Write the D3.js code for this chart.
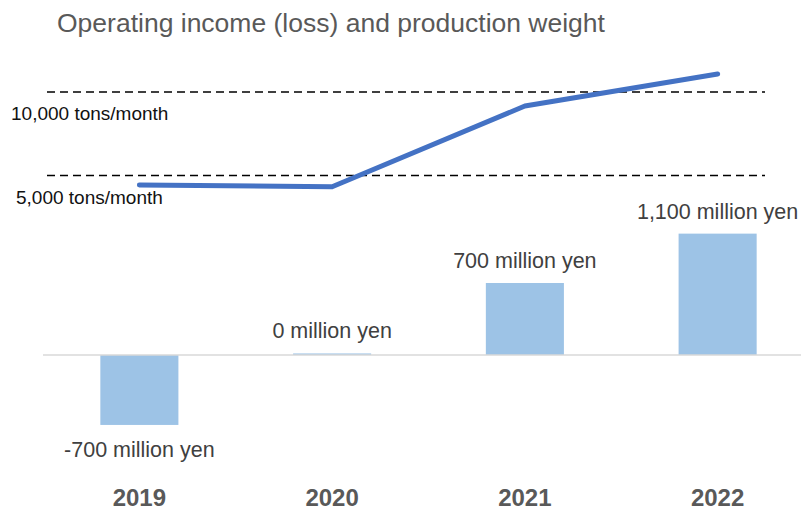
<!DOCTYPE html>
<html>
<head>
<meta charset="utf-8">
<script src="https://cdn.jsdelivr.net/npm/d3@7/dist/d3.min.js"></script>
<style>
  html, body { margin: 0; padding: 0; background: #fff; }
  svg { display: block; font-family: "Liberation Sans", Arial, sans-serif; }
</style>
</head>
<body>
<svg id="chart" width="801" height="512"></svg>
<script>
// ---- data ----
const years = ["2019", "2020", "2021", "2022"];
const operatingIncome = [-680, 15, 700, 1180];          // million yen (bars)
const incomeLabels = ["-700 million yen", "0 million yen", "700 million yen", "1,100 million yen"];
const productionWeight = [4430, 4330, 9160, 11080];     // tons/month (line)
const refLevels = [10000, 5000];
const refLabels = ["10,000 tons/month", "5,000 tons/month"];
const title = "Operating income (loss) and production weight";

// ---- layout ----
const svg = d3.select("#chart");
const x = d3.scalePoint().domain(years).range([43, 814]).padding(0.5);
const barW = x.step() * 0.405;
const yBar = d3.scaleLinear().domain([0, 700]).range([355, 283]);
const yLine = d3.scaleLinear().domain([5000, 10000]).range([175.5, 92]);

// title
svg.append("text")
  .attr("x", 57).attr("y", 32)
  .attr("fill", "#595959")
  .style("font-size", "26.5px")
  .text(title);

// bars
svg.append("g").selectAll("rect")
  .data(years)
  .join("rect")
  .attr("x", (d) => x(d) - barW / 2)
  .attr("width", barW)
  .attr("y", (d, i) => Math.min(yBar(operatingIncome[i]), yBar(0)))
  .attr("height", (d, i) => Math.abs(yBar(operatingIncome[i]) - yBar(0)))
  .attr("fill", "#9DC3E6");

// baseline
svg.append("line")
  .attr("x1", 43).attr("x2", 801)
  .attr("y1", yBar(0)).attr("y2", yBar(0))
  .attr("stroke", "#d9d9d9").attr("stroke-width", 1.5);

// bar labels
svg.append("g").selectAll("text")
  .data(years)
  .join("text")
  .attr("x", (d) => x(d))
  .attr("y", (d, i) => operatingIncome[i] >= 0 ? yBar(operatingIncome[i]) - 15 : yBar(operatingIncome[i]) + 32)
  .attr("text-anchor", "middle")
  .attr("fill", "#404040")
  .style("font-size", "21.5px")
  .text((d, i) => incomeLabels[i]);

// reference dashed lines
svg.append("g").selectAll("line")
  .data(refLevels)
  .join("line")
  .attr("x1", 47).attr("x2", 765)
  .attr("y1", (d) => yLine(d)).attr("y2", (d) => yLine(d))
  .attr("stroke", "#000").attr("stroke-width", 1.5)
  .attr("stroke-dasharray", "8,5");

// reference labels
svg.append("g").selectAll("text")
  .data(refLevels)
  .join("text")
  .attr("x", (d, i) => i === 0 ? 11 : 16)
  .attr("y", (d) => yLine(d) + 28)
  .attr("fill", "#111")
  .style("font-size", "19px")
  .text((d, i) => refLabels[i]);

// production line
const line = d3.line()
  .x((d, i) => x(years[i]))
  .y((d) => yLine(d));
svg.append("path")
  .datum(productionWeight)
  .attr("d", line)
  .attr("fill", "none")
  .attr("stroke", "#4472C4")
  .attr("stroke-width", 5)
  .attr("stroke-linecap", "round")
  .attr("stroke-linejoin", "round");

// year labels
svg.append("g").selectAll("text")
  .data(years)
  .join("text")
  .attr("x", (d) => x(d))
  .attr("y", 506)
  .attr("text-anchor", "middle")
  .attr("fill", "#595959")
  .style("font-size", "24px")
  .style("font-weight", "bold")
  .text((d) => d);
</script>
</body>
</html>
